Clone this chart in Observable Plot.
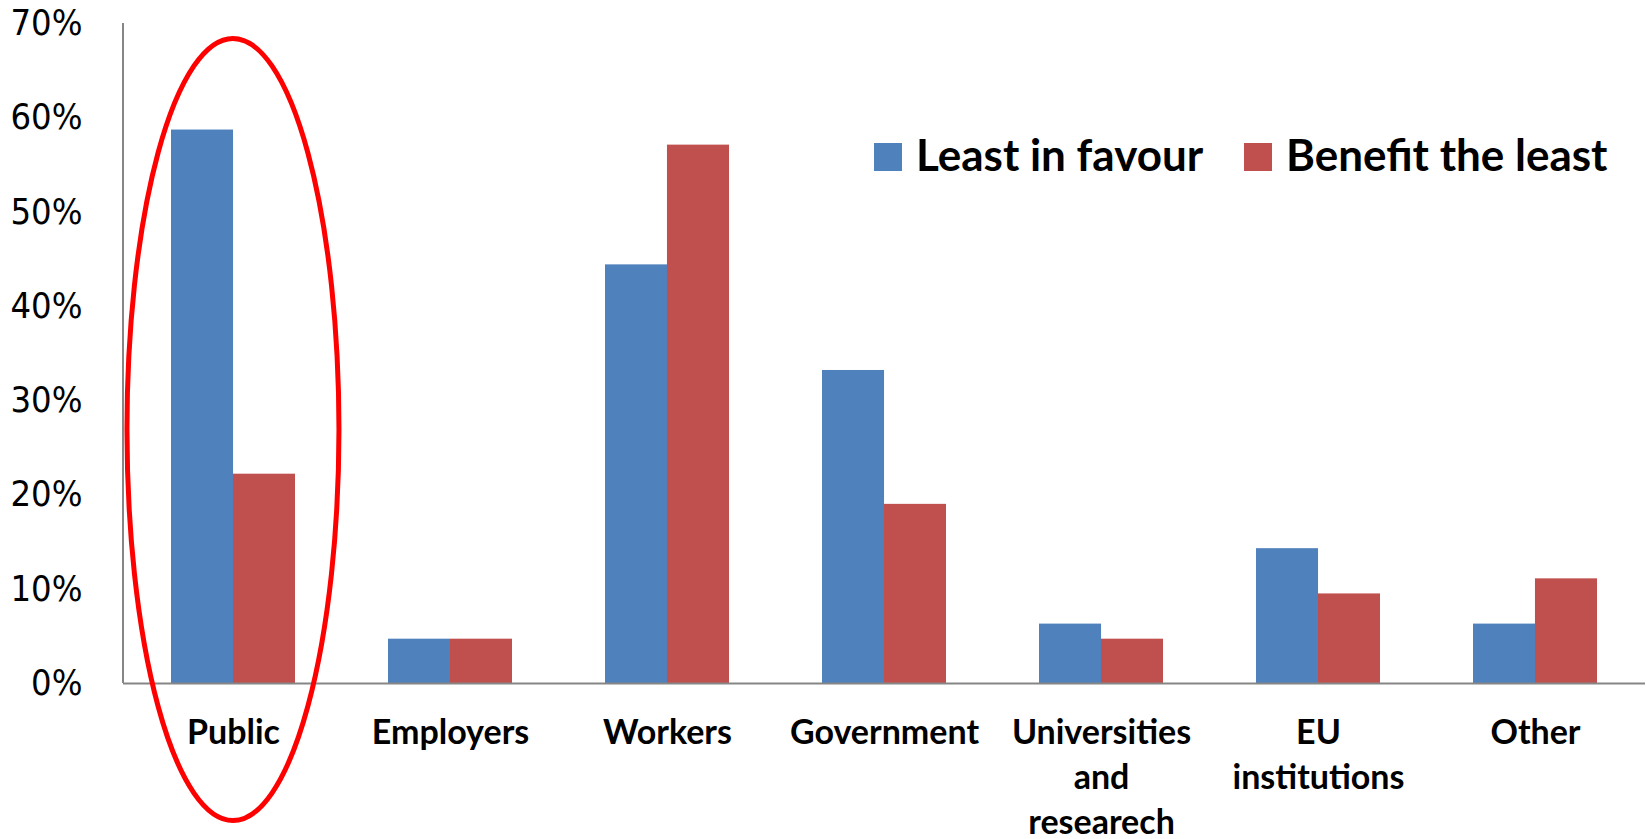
<!DOCTYPE html>
<html>
<head>
<meta charset="utf-8">
<script src="https://cdn.jsdelivr.net/npm/d3@7"></script>
<script src="https://cdn.jsdelivr.net/npm/@observablehq/plot@0.6"></script>
<style>
  html, body { margin: 0; padding: 0; background: #fff; }
  #chart svg { display: block; }
</style>
</head>
<body>
<div id="chart"></div>
<script>
const categories = ["Public", "Employers", "Workers", "Government", "Universities", "EU", "Other"];
const tickLabels = ["Public", "Employers", "Workers", "Government", "Universities\nand\nresearech", "EU\ninstitutions", "Other"];
const seriesNames = ["Least in favour", "Benefit the least"];
const leastInFavour = [0.587, 0.047, 0.444, 0.332, 0.063, 0.143, 0.063];
const benefitTheLeast = [0.222, 0.047, 0.571, 0.190, 0.047, 0.095, 0.111];
const seriesColors = ["#4F81BD", "#C0504D"];
const yTicks = [0, 0.1, 0.2, 0.3, 0.4, 0.5, 0.6, 0.7];
const highlighted = "Public";

const W = 1646, H = 839;
const mL = 123, mR = 1, mT = 23, mB = 156;
const pInner = 0.43, pOuter = 0.215;
const step = (W - mL - mR) / (categories.length - pInner + 2 * pOuter);
const bw = step * (1 - pInner);

const plot = Plot.plot({
  width: W,
  height: H,
  marginLeft: mL,
  marginRight: mR,
  marginTop: mT,
  marginBottom: mB,
  style: { fontFamily: "'DejaVu Sans Condensed', 'DejaVu Sans', sans-serif", background: "#fff", color: "#000", overflow: "visible" },
  x: { domain: categories, paddingInner: pInner, paddingOuter: pOuter, axis: null },
  y: { domain: [0, 0.7], axis: null },
  marks: [
    Plot.barY(categories, { x: d => d, y: (d, i) => leastInFavour[i], fill: seriesColors[0], insetRight: bw / 2 }),
    Plot.barY(categories, { x: d => d, y: (d, i) => benefitTheLeast[i], fill: seriesColors[1], insetLeft: bw / 2 }),
    Plot.ruleY([0], { stroke: "#868686", strokeWidth: 2 }),
    Plot.axisY({ ticks: yTicks, tickFormat: d => Math.round(d * 100) + "%", tickSize: 0, tickPadding: 41, fontSize: 36 }),
    Plot.text(categories, {
      x: d => d, text: (d, i) => tickLabels[i], frameAnchor: "bottom", lineAnchor: "top",
      dy: 29, lineHeight: 1.32, fontSize: 34, fontWeight: "bold", fontFamily: "Lato, sans-serif", fill: "#000"
    })
  ]
});

document.getElementById("chart").appendChild(plot);

const svg = d3.select(plot);
const xs = plot.scale("x");
// vertical axis line
svg.append("line")
  .attr("x1", mL).attr("x2", mL).attr("y1", mT).attr("y2", H - mB)
  .attr("stroke", "#868686").attr("stroke-width", 2);

// highlight ellipse around "Public"
const cx = xs.apply(highlighted) + bw / 2;
svg.append("ellipse")
  .attr("cx", cx).attr("cy", 429.5).attr("rx", 106).attr("ry", 391)
  .attr("fill", "none").attr("stroke", "#FF0000").attr("stroke-width", 5);

// legend
const legend = svg.append("g").attr("font-family", "Lato, sans-serif").attr("font-weight", "bold")
  .attr("font-size", 44).attr("text-anchor", "start");
const legendX = [874, 1244];
seriesNames.forEach((name, i) => {
  legend.append("rect").attr("x", legendX[i]).attr("y", 143).attr("width", 28).attr("height", 28).attr("fill", seriesColors[i]);
  legend.append("text").attr("x", legendX[i] + 42).attr("y", 171).attr("fill", "#000").text(name);
});
</script>
</body>
</html>
